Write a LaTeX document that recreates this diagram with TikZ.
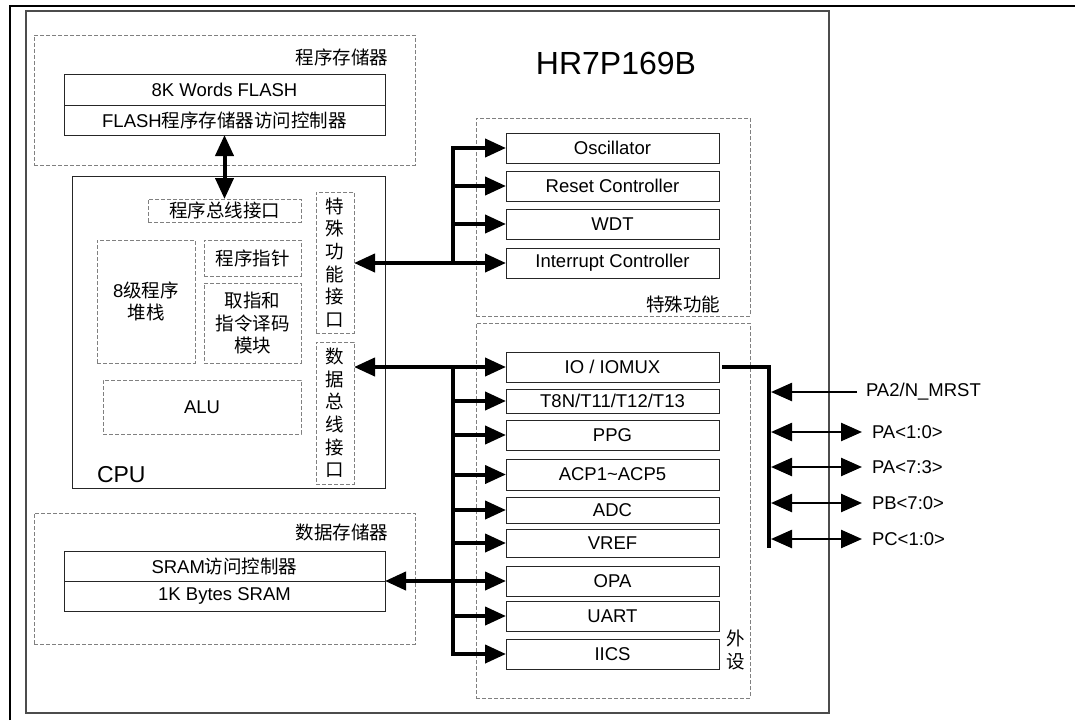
\documentclass[tikz,border=0pt]{standalone}
\usepackage{fontspec}
\setmainfont{Liberation Sans}
\newfontfamily\cjk{Noto Sans CJK SC}
\usetikzlibrary{arrows.meta}
\newcommand\myfs{\fontsize{18.5}{22.6}\selectfont}
\tikzset{
  every node/.style={font=\myfs, inner sep=0pt, outer sep=0pt},
  dbox/.style={draw=black!50, dash pattern=on 4pt off 2pt, line width=1pt},
  sbox/.style={draw=black!85, line width=1pt},
  bus/.style={line width=4pt},
  pinline/.style={line width=2.5pt},
  >={Triangle[length=21pt,width=18pt]}
}
\begin{document}
\begin{tikzpicture}[x=1pt,y=-1pt]
\useasboundingbox (0,0) rectangle (1075,720);
% outer frame
\draw[line width=2.2pt] (10,720) -- (10,6) -- (1075,6);
\draw[draw=black!70, line width=1.4pt] (26,11) rectangle (829,713);

% title
\node (title) at (616,63) {\fontsize{32}{36}\selectfont HR7P169B};

% program memory
\node[dbox, minimum width=381pt, minimum height=130pt] (pm) at (224.5,100) {};
\node[anchor=east] (pmlbl) at (388,57) {\cjk 程序存储器};
\node[sbox, minimum width=321pt, minimum height=31pt] (flash1) at (224.5,89.5) {8K Words FLASH};
\node[sbox, minimum width=321pt, minimum height=30pt] (flash2) at (224.5,120) {FLASH{\cjk 程序存储器访问控制器}};

% CPU
\node[sbox, minimum width=313pt, minimum height=312pt] (cpu) at (228.5,332) {};
\node[anchor=west] (cpulbl) at (97,475) {\fontsize{23}{26}\selectfont CPU};
\node[dbox, minimum width=153pt, minimum height=23pt] (pbi) at (224.5,210.5) {\cjk 程序总线接口};
\node[dbox, minimum width=98pt, minimum height=123pt, align=center] (stack) at (146,301.5) {8{\cjk 级程序}\\{\cjk 堆栈}};
\node[dbox, minimum width=97pt, minimum height=36pt] (pcnt) at (252.5,258) {\cjk 程序指针};
\node[dbox, minimum width=97pt, minimum height=80pt, align=center] (dec) at (252.5,323) {{\cjk 取指和}\\{\cjk 指令译码}\\{\cjk 模块}};
\node[dbox, minimum width=198pt, minimum height=54pt] (alu) at (202,407) {ALU};
\node[dbox, minimum width=38pt, minimum height=141pt, align=center] (sfi) at (335,262.5) {{\cjk 特}\\{\cjk 殊}\\{\cjk 功}\\{\cjk 能}\\{\cjk 接}\\{\cjk 口}};
\node[dbox, minimum width=38pt, minimum height=142pt, align=center] (dbi) at (335,413) {{\cjk 数}\\{\cjk 据}\\{\cjk 总}\\{\cjk 线}\\{\cjk 接}\\{\cjk 口}};

% data memory
\node[dbox, minimum width=381pt, minimum height=131pt] (dm) at (224.5,578.5) {};
\node[anchor=east] (dmlbl) at (388,532) {\cjk 数据存储器};
\node[sbox, minimum width=321pt, minimum height=30pt] (sram1) at (224.5,566) {SRAM{\cjk 访问控制器}};
\node[sbox, minimum width=321pt, minimum height=30pt] (sram2) at (224.5,596) {1K Bytes SRAM};

% special functions
\node[dbox, minimum width=274pt, minimum height=198pt] (sf) at (613,217) {};
\node[anchor=east] (sflbl) at (720,304) {\cjk 特殊功能};
\node[sbox, minimum width=213pt, minimum height=30pt] (osc) at (612.5,148) {Oscillator};
\node[sbox, minimum width=213pt, minimum height=30pt] (rst) at (612.5,186) {Reset Controller};
\node[sbox, minimum width=213pt, minimum height=30pt] (wdt) at (612.5,224) {WDT};
\node[sbox, minimum width=213pt, minimum height=30pt] (irq) at (612.5,263) {Interrupt Controller};

% peripherals
\node[dbox, minimum width=274pt, minimum height=375pt] (per) at (613,510.5) {};
\node[align=center] (perlbl) at (736,650) {{\cjk 外}\\{\cjk 设}};
\node[sbox, minimum width=213pt, minimum height=30pt] (io) at (612.5,367) {IO / IOMUX};
\node[sbox, minimum width=213pt, minimum height=24pt] (tmr) at (612.5,401) {T8N/T11/T12/T13};
\node[sbox, minimum width=213pt, minimum height=30pt] (ppg) at (612.5,435) {PPG};
\node[sbox, minimum width=213pt, minimum height=31pt] (acp) at (612.5,474.5) {ACP1\textasciitilde ACP5};
\node[sbox, minimum width=213pt, minimum height=26pt] (adc) at (612.5,510) {ADC};
\node[sbox, minimum width=213pt, minimum height=28pt] (vref) at (612.5,543) {VREF};
\node[sbox, minimum width=213pt, minimum height=30pt] (opa) at (612.5,581) {OPA};
\node[sbox, minimum width=213pt, minimum height=30pt] (uart) at (612.5,616) {UART};
\node[sbox, minimum width=213pt, minimum height=30pt] (iics) at (612.5,654) {IICS};

% pins
\node[anchor=west] (pa2) at (866,392) {PA2/N\_MRST};
\node[anchor=west] (pa10) at (872,432) {PA<1:0>};
\node[anchor=west] (pa73) at (872,467) {PA<7:3>};
\node[anchor=west] (pb) at (872,503) {PB<7:0>};
\node[anchor=west] (pc) at (872,539) {PC<1:0>};

% program bus
\draw[bus,<->] (flash2.south) -- (pbi.north);

% special function bus
\coordinate (sfx) at (453,0);
\draw[bus,line cap=rect] (sfx |- osc.west) -- (sfx |- irq.west);
\draw[bus,<->] (sfi.east |- irq.west) -- (irq.west);
\foreach \n in {osc,rst,wdt}{\draw[bus,->] (sfx |- \n.west) -- (\n.west);}

% data bus
\coordinate (dbx) at (453,0);
\draw[bus,line cap=rect] (dbx |- io.west) -- (dbx |- iics.west);
\draw[bus,<->] (dbi.east |- io.west) -- (io.west);
\draw[bus,<->] (sram1.south east) -- (opa.west);
\foreach \n in {tmr,ppg,acp,adc,vref,uart,iics}{\draw[bus,->] (dbx |- \n.west) -- (\n.west);}

% IO pin bus
\coordinate (pinbot) at (769,548);
\draw[bus,line join=miter] ([xshift=3pt]io.east) -| (pinbot);
\coordinate (pintip) at (771,0);
\draw[pinline,->] ([xshift=-9pt]pa2.west) -- (pintip |- pa2.west);
\foreach \n in {pa10,pa73,pb,pc}{\draw[pinline,<->] (pintip |- \n.west) -- ([xshift=-10pt]\n.west);}
\end{tikzpicture}
\end{document}
